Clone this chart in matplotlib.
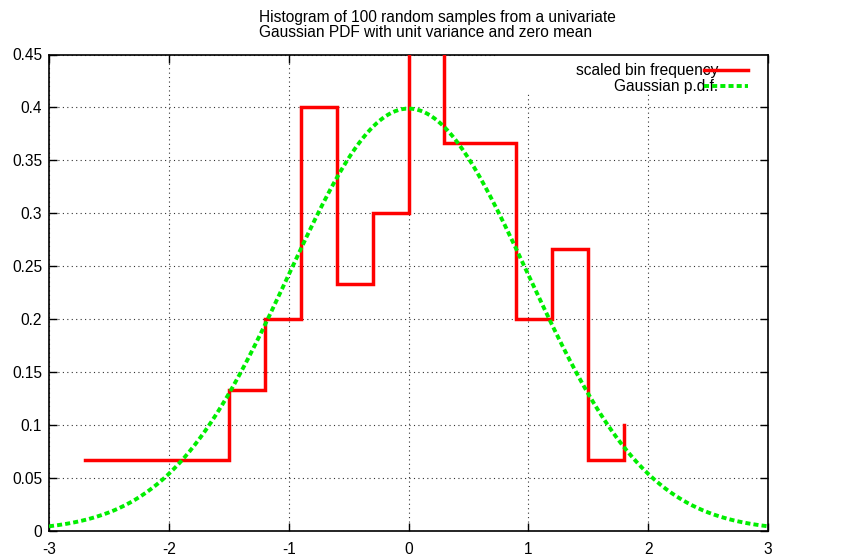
import numpy as np
import matplotlib
matplotlib.use("Agg")
import matplotlib.pyplot as plt
from matplotlib.patches import Rectangle

# Data
bin_x = [-2.7, -1.5, -1.2, -0.9, -0.6, -0.3, 0.0, 0.3, 0.9, 1.2, 1.5, 1.8]
bin_freq = [0.0667, 0.1333, 0.2, 0.4, 0.2333, 0.3, 0.5, 0.3667, 0.2, 0.2667, 0.0667, 0.1]
x_ticks = [-3, -2, -1, 0, 1, 2, 3]
y_ticks = [0, 0.05, 0.1, 0.15, 0.2, 0.25, 0.3, 0.35, 0.4, 0.45]
y_tick_labels = ["0", "0.05", "0.1", "0.15", "0.2", "0.25", "0.3", "0.35", "0.4", "0.45"]
title = "Histogram of 100 random samples from a univariate\nGaussian PDF with unit variance and zero mean"

plt.rcParams['font.family'] = ['Liberation Sans', 'DejaVu Sans']
FS = 11.2

fig = plt.figure(figsize=(8.6, 5.56), dpi=100)
ax = fig.add_axes([49/860, 1-531/556, (768-49)/860, (531-54.5)/556])

xs = np.linspace(-3, 3, 400)
pdf = np.exp(-xs**2/2)/np.sqrt(2*np.pi)

ax.step(bin_x, bin_freq, where='post', color='#ff0000', lw=2.5, zorder=3,
        label='scaled bin frequency', solid_joinstyle='miter')
ax.plot(xs, pdf, color='#00ee00', lw=2.8, ls=(0, (1.3, 0.8)), zorder=4,
        label='Gaussian p.d.f.')

ax.set_xlim(-3, 3)
ax.set_ylim(0, 0.45)
ax.set_xticks(x_ticks)
ax.set_xticklabels([str(v) for v in x_ticks])
ax.set_yticks(y_ticks)
ax.set_yticklabels(y_tick_labels)
ax.tick_params(direction='in', top=True, right=True, length=6, width=1,
               labelsize=FS, colors='black')
ax.tick_params(axis='y', pad=5)
ax.tick_params(axis='x', pad=8)
ax.grid(True, color='black', ls=(0, (1, 3)), lw=0.8, alpha=0.8, zorder=1)
for s in ax.spines.values():
    s.set_linewidth(1.2)

# opaque key background like gnuplot
ax.add_patch(Rectangle((0.75, 0.45 - 0.036), 2.25, 0.036, facecolor='white',
                       edgecolor='none', zorder=2))

leg = ax.legend(loc='upper right', frameon=False, fontsize=FS, markerfirst=False,
                handlelength=2.85, borderaxespad=0.0, labelspacing=0.05,
                handletextpad=-0.95, borderpad=0.0,
                bbox_to_anchor=(1 - 20/719, 1 - 9/476.5))
for t in leg.get_texts():
    t.set_ha('right')
leg.set_zorder(5)

fig.text(259/860, 1-10/556, title, ha='left', va='top', fontsize=FS,
         linespacing=1.0, multialignment='left')

fig.savefig('out.png', dpi=100)
